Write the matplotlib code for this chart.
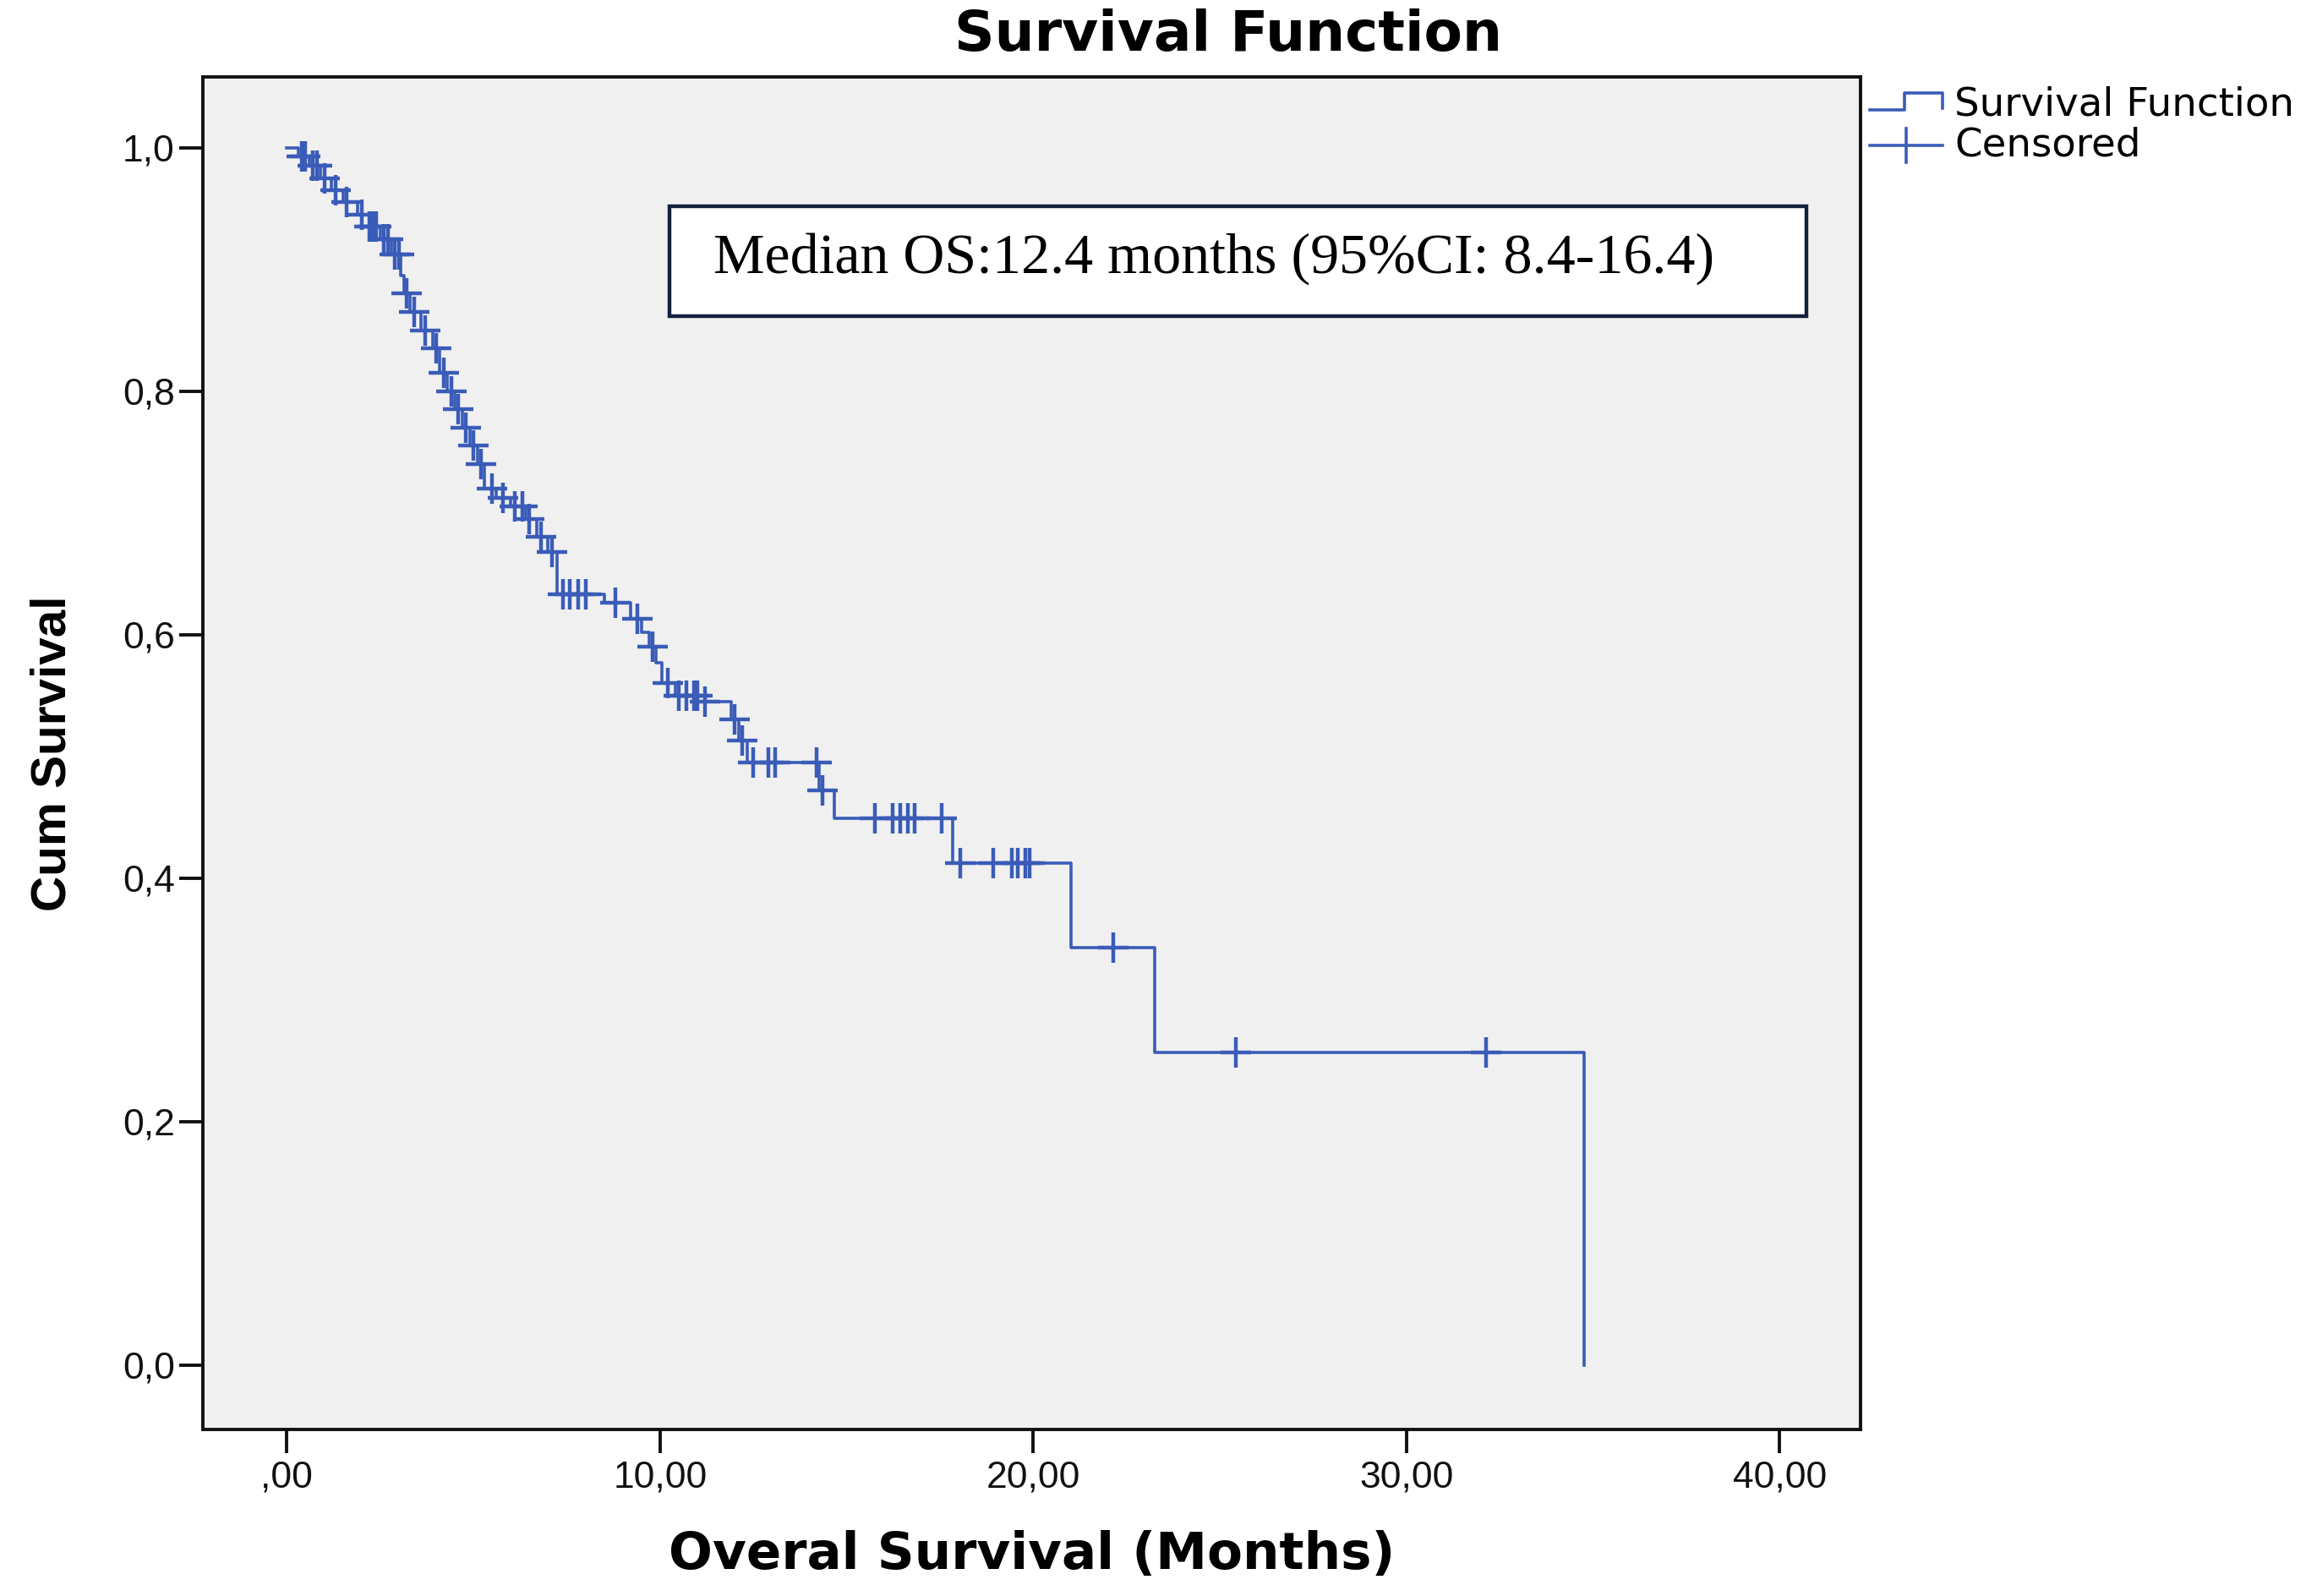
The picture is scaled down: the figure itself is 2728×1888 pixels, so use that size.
import numpy as np
import matplotlib
matplotlib.use("Agg")
from matplotlib import pyplot as plt
from matplotlib.lines import Line2D
from matplotlib.patches import Rectangle

plt.rcParams['font.family'] = ['Liberation Sans', 'DejaVu Sans']

# event times (months) and survival level right after each drop
event_t = [0.3, 0.6, 0.9, 1.2, 1.5, 1.9, 2.2, 2.5, 2.8, 3.05, 3.15, 3.3, 3.6,
           3.9, 4.1, 4.3, 4.5, 4.7, 4.9, 5.1, 5.3, 5.6, 6.0, 6.4, 6.7, 7.0,
           7.25, 8.5, 9.2, 9.5, 9.7, 9.9, 10.05, 10.4, 11.2, 11.9, 12.1, 12.33,
           14.25, 14.66, 17.85, 21.0, 23.25, 34.76]
event_s = [0.993, 0.985, 0.975, 0.965, 0.955, 0.945, 0.935, 0.925, 0.912,
           0.895, 0.880, 0.865, 0.850, 0.835, 0.815, 0.800, 0.785, 0.770,
           0.755, 0.740, 0.720, 0.712, 0.705, 0.695, 0.680, 0.668, 0.633,
           0.626, 0.613, 0.602, 0.590, 0.577, 0.560, 0.550, 0.545, 0.530,
           0.513, 0.495, 0.472, 0.449, 0.412, 0.343, 0.257, 0.0]

# censored times (months)
cens_t = [0.4, 0.5, 0.7, 0.8, 1.0, 1.3, 1.6, 2.0, 2.2, 2.3, 2.4, 2.6, 2.7,
          2.9, 3.0, 3.2, 3.4, 3.7, 4.0, 4.2, 4.4, 4.6, 4.8, 5.0, 5.2, 5.5,
          5.8, 6.1, 6.3, 6.5, 6.8, 7.1, 7.4, 7.57, 7.8, 8.0, 8.8, 9.4, 9.8,
          10.2, 10.5, 10.7, 10.9, 11.0, 11.2, 12.0, 12.2, 12.49, 12.89, 13.08,
          14.19, 14.35, 15.76, 16.24, 16.43, 16.63, 16.83, 17.54, 18.05, 18.92,
          19.43, 19.59, 19.78, 19.9, 22.15, 25.42, 32.12]

x_ticks = [0, 10, 20, 30, 40]
x_tick_labels = [",00", "10,00", "20,00", "30,00", "40,00"]
y_ticks = [0.0, 0.2, 0.4, 0.6, 0.8, 1.0]
y_tick_labels = ["0,0", "0,2", "0,4", "0,6", "0,8", "1,0"]

blue = "#3a5cb8"

# step arrays
step_x = [0.0] + event_t
step_y = [1.0] + event_s
# survival at each censored time
cens_idx = np.searchsorted(np.array(event_t), np.array(cens_t), side="right")
cens_s = [step_y[i] for i in cens_idx]

fig = plt.figure(figsize=(13.64, 9.44), dpi=200)
ax = fig.add_axes([0.088, 0.1043, 0.7189, 0.8475])
ax.set_facecolor("#f0f0f0")

ax.step(step_x, step_y, where="post", color=blue, lw=1.3, zorder=3)
ax.plot(cens_t, cens_s, ls="none", marker="+", ms=13, mew=1.6,
        color=blue, zorder=4)

ax.set_xlim(-2.25, 42.17)
ax.set_ylim(-0.053, 1.058)
ax.set_xticks(x_ticks)
ax.set_xticklabels(x_tick_labels)
ax.set_yticks(y_ticks)
ax.set_yticklabels(y_tick_labels)
ax.tick_params(axis="both", direction="out", length=10, width=1.4,
               labelsize=16, colors="#111111")
ax.tick_params(axis="x", pad=3)
ax.tick_params(axis="y", pad=2)
for s in ax.spines.values():
    s.set_linewidth(1.4)
    s.set_color("#111111")

ax.set_xlabel("Overal Survival (Months)", fontsize=22, fontweight="bold",
              family=["DejaVu Sans"], labelpad=15)
ax.set_ylabel("Cum Survival", fontsize=21, fontweight="bold", labelpad=20)
fig.text(0.5327, 0.978, "Survival Function", fontsize=23.8, fontweight="bold",
         family=["DejaVu Sans"], ha="center", va="center")

# median annotation box
ax.add_patch(Rectangle((0.2815, 0.8231), 0.6859, 0.0813, transform=ax.transAxes,
                       fc="white", ec="#14213d", lw=1.6, zorder=5))
ax.text(0.308, 0.8656, "Median OS:12.4 months (95%CI: 8.4-16.4)",
        transform=ax.transAxes, fontsize=24.5, family="Liberation Serif",
        va="center", ha="left", zorder=6)

# legend drawn by hand (step glyph + censored glyph)
W, H = 2728.0, 1888.0
def fx(p):
    return p / W
def fy(p):
    return 1 - p / H

fig.add_artist(Line2D([fx(2212), fx(2253), fx(2253), fx(2298), fx(2298)],
                      [fy(130), fy(130), fy(110), fy(110), fy(128)],
                      color=blue, lw=1.3))
fig.add_artist(Line2D([fx(2212), fx(2298)], [fy(172), fy(172)],
                      color=blue, lw=1.3))
fig.add_artist(Line2D([fx(2255), fx(2255)], [fy(152), fy(192)],
                      color=blue, lw=1.3))
fig.text(fx(2312), fy(124), "Survival Function", fontsize=16.8,
         family=["DejaVu Sans"], va="center", ha="left")
fig.text(fx(2312), fy(172), "Censored", fontsize=16.8,
         family=["DejaVu Sans"], va="center", ha="left")

fig.savefig("out.png", dpi=200)
